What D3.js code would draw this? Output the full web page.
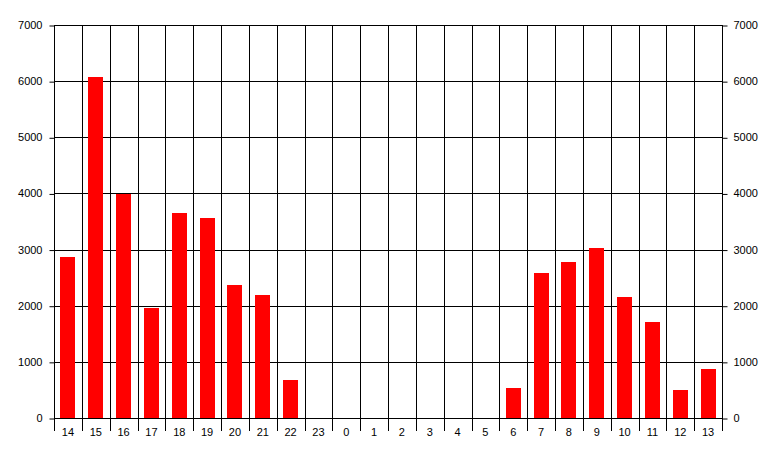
<!DOCTYPE html>
<html><head><meta charset="utf-8">
<script src="https://cdn.jsdelivr.net/npm/d3@7"></script>
<style>
html,body{margin:0;padding:0;background:#fff;}
svg{display:block;}
text{font-family:Arial,"Liberation Sans",sans-serif;font-size:11px;fill:#000;}
</style></head>
<body>
<svg id="chart" width="777" height="457"></svg>
<script>
const categories = ["14","15","16","17","18","19","20","21","22","23","0","1","2","3","4","5","6","7","8","9","10","11","12","13"];
const values = [2870,6080,3990,1965,3650,3560,2370,2190,680,0,0,0,0,0,0,0,534,2583,2779,3028,2155,1710,500,873];
const yTicks = [0,1000,2000,3000,4000,5000,6000,7000];

(function () {
const svg = d3.select("#chart");
const pLeft = 54, pRight = 722, pTop = 25, pBottom = 418;

const xBand = d3.scaleBand().domain(categories).range([pLeft, pRight]).padding(0);
const xBar = d3.scaleBand().domain(categories).range([pLeft, pRight]).paddingInner(0.46).paddingOuter(0.23);
const y = d3.scaleLinear().domain([0, 7000]).range([pBottom, pTop]);

const crisp = v => Math.round(v) + 0.5;

// horizontal gridlines
svg.append("g").selectAll("line").data(yTicks).join("line")
  .attr("x1", pLeft).attr("x2", pRight + 1)
  .attr("y1", d => crisp(y(d))).attr("y2", d => crisp(y(d)))
  .attr("stroke", "#000").attr("stroke-width", 1);

// vertical gridlines at category boundaries (extend below as ticks)
const bounds = categories.map(c => xBand(c)).concat([pRight]);
svg.append("g").selectAll("line").data(bounds).join("line")
  .attr("x1", d => crisp(d)).attr("x2", d => crisp(d))
  .attr("y1", pTop).attr("y2", 431)
  .attr("stroke", "#000").attr("stroke-width", 1);

// bars
svg.append("g").selectAll("rect").data(values).join("rect")
  .attr("x", (d, i) => Math.round(xBar(categories[i])))
  .attr("width", Math.round(xBar.bandwidth()))
  .attr("y", d => Math.round(y(d)))
  .attr("height", d => pBottom - Math.round(y(d)))
  .attr("fill", "#ff0000");

// left axis
const yAxisL = svg.append("g").attr("transform", `translate(${crisp(pLeft)},0)`)
  .call(d3.axisLeft(y).tickValues(yTicks).tickSize(5).tickPadding(7).tickFormat(d3.format("d")));
yAxisL.select(".domain").remove();
yAxisL.selectAll(".tick line").attr("stroke", "#000").attr("transform", "translate(0,0.5)");
yAxisL.selectAll("text").attr("font-size", 11).attr("font-family", "Arial, 'Liberation Sans', sans-serif");

// right axis
const yAxisR = svg.append("g").attr("transform", `translate(${crisp(pRight)},0)`)
  .call(d3.axisRight(y).tickValues(yTicks).tickSize(5).tickPadding(6).tickFormat(d3.format("d")));
yAxisR.select(".domain").remove();
yAxisR.selectAll(".tick line").attr("stroke", "#000").attr("transform", "translate(0,0.5)");
yAxisR.selectAll("text").attr("font-size", 11).attr("font-family", "Arial, 'Liberation Sans', sans-serif");

// bottom category labels
svg.append("g").selectAll("text").data(categories).join("text")
  .attr("x", d => xBand(d) + xBand.bandwidth() / 2)
  .attr("y", 436)
  .attr("text-anchor", "middle")
  .text(d => d);
})();
</script>
</body></html>
